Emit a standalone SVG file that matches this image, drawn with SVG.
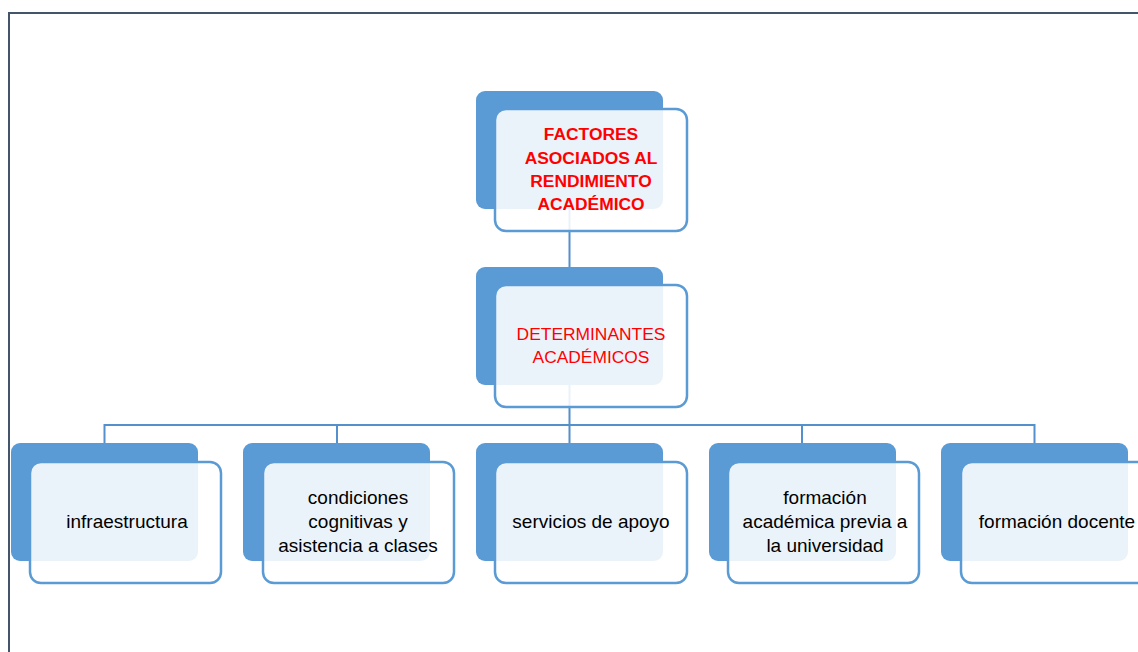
<svg xmlns="http://www.w3.org/2000/svg" width="1138" height="652" viewBox="0 0 1138 652">
<style>
.back{fill:#5b9bd5;}
.front{fill:#ffffff;fill-opacity:0.88;stroke:#5b9bd5;stroke-width:2.5;}
.conn{fill:none;stroke:#5490cc;stroke-width:2;}
.t{font-family:"Liberation Sans",Arial,sans-serif;font-size:19px;text-anchor:middle;fill:#000;}
.red{fill:#ff0000;font-size:17.4px;}
.b{font-weight:bold;}
.frame{fill:none;stroke:#44546a;stroke-width:2;}
</style>
<rect width="1138" height="652" fill="#ffffff"/>
<path class="frame" d="M9,652 V13 H1138"/>
<g id="connectors">
<path class="conn" d="M569.5,209 V267"/>
<path class="conn" d="M569.5,385 V425 M104.5,443 V425 H1034.5 V443 M337,425 V443 M569.5,425 V443 M802,425 V443"/>
</g>
<g id="n-factores">
<rect class="back" x="476" y="91" width="187" height="118" rx="9"/>
<rect class="front" x="495" y="109" width="192" height="122" rx="11"/>
<text class="t red b" x="591" y="140">FACTORES</text>
<text class="t red b" x="591" y="164">ASOCIADOS AL</text>
<text class="t red b" x="591" y="187">RENDIMIENTO</text>
<text class="t red b" x="591" y="210">ACADÉMICO</text>
</g>
<g id="n-determinantes">
<rect class="back" x="476" y="267" width="187" height="118" rx="9"/>
<rect class="front" x="495" y="285" width="192" height="122" rx="11"/>
<text class="t red" x="591" y="340">DETERMINANTES</text>
<text class="t red" x="591" y="363">ACADÉMICOS</text>
</g>
<g id="n-infraestructura">
<rect class="back" x="11" y="443" width="187" height="118" rx="9"/>
<rect class="front" x="30" y="462" width="191" height="121" rx="11"/>
<text class="t" x="127" y="528">infraestructura</text>
</g>
<g id="n-condiciones">
<rect class="back" x="243" y="443" width="187" height="118" rx="9"/>
<rect class="front" x="263" y="462" width="191" height="121" rx="11"/>
<text class="t" x="358" y="504">condiciones</text>
<text class="t" x="358" y="528">cognitivas y</text>
<text class="t" x="358" y="552">asistencia a clases</text>
</g>
<g id="n-servicios">
<rect class="back" x="476" y="443" width="187" height="118" rx="9"/>
<rect class="front" x="495" y="462" width="192" height="121" rx="11"/>
<text class="t" x="591" y="528">servicios de apoyo</text>
</g>
<g id="n-formacion-academica">
<rect class="back" x="709" y="443" width="187" height="118" rx="9"/>
<rect class="front" x="728" y="462" width="191" height="121" rx="11"/>
<text class="t" x="825" y="504">formación</text>
<text class="t" x="825" y="528">académica previa a</text>
<text class="t" x="825" y="552">la universidad</text>
</g>
<g id="n-formacion-docente">
<rect class="back" x="941" y="443" width="187" height="118" rx="9"/>
<rect class="front" x="961" y="462" width="191" height="121" rx="11"/>
<text class="t" x="1057" y="528">formación docente</text>
</g>
</svg>
